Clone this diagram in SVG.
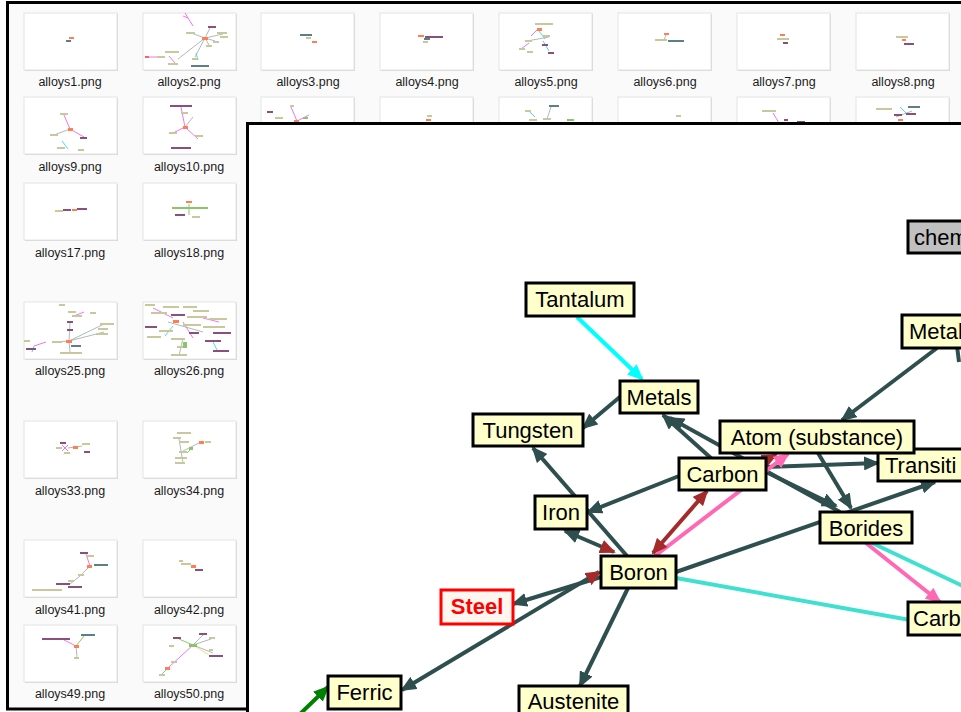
<svg xmlns="http://www.w3.org/2000/svg" width="961" height="712" viewBox="0 0 961 712">
  <defs>
    <style>
      .thumb-shadow { fill: #d4d4d4; }
      .thumb { fill: #ffffff; stroke: #e4e4e4; stroke-width: 1; }
      .fname { font-family: "Liberation Sans", Arial, sans-serif; font-size: 12.5px; fill: #1a1a1a; text-anchor: middle; }
      .mb { fill: #c9c79c; }
      .mp { fill: #8b4f7b; }
      .mo { fill: #ff7f50; }
      .mg { fill: #5f7f86; }
      .mgr { fill: #8cc46a; }
      .ml { stroke: #9aa8a8; stroke-width: 0.8; fill: none; }
      .mlp { stroke: #ee66ee; stroke-width: 0.9; fill: none; }
      .mlc { stroke: #44d4d4; stroke-width: 0.9; fill: none; }
      .mlg { stroke: #7fc45a; stroke-width: 0.9; fill: none; }
      .mly { stroke: #e8e070; stroke-width: 0.9; fill: none; }
      .node rect { fill: #ffffcc; stroke: #000000; stroke-width: 3; }
      .node text { font-family: "Liberation Sans", Arial, sans-serif; font-size: 22px; fill: #000000; }
      .edge { fill: none; stroke-width: 4; }
      .dk { stroke: #2f4f4f; }
      .cy { stroke: #00ffff; }
      .tq { stroke: #40e0d0; }
      .pk { stroke: #ff69b4; }
      .br { stroke: #a52a2a; }
      .gr { stroke: #008000; }
    </style>
    <marker id="ah-dk" viewBox="0 0 16 14" refX="14" refY="7" markerWidth="16" markerHeight="14" markerUnits="userSpaceOnUse" orient="auto-start-reverse"><path d="M0,0 L16,7 L0,14 z" fill="#2f4f4f"/></marker>
    <marker id="ah-cy" viewBox="0 0 16 14" refX="14" refY="7" markerWidth="16" markerHeight="14" markerUnits="userSpaceOnUse" orient="auto"><path d="M0,0 L16,7 L0,14 z" fill="#00ffff"/></marker>
    <marker id="ah-pk" viewBox="0 0 16 14" refX="14" refY="7" markerWidth="16" markerHeight="14" markerUnits="userSpaceOnUse" orient="auto"><path d="M0,0 L16,7 L0,14 z" fill="#ff69b4"/></marker>
    <marker id="ah-br" viewBox="0 0 16 14" refX="14" refY="7" markerWidth="16" markerHeight="14" markerUnits="userSpaceOnUse" orient="auto-start-reverse"><path d="M0,0 L16,7 L0,14 z" fill="#a52a2a"/></marker>
    <marker id="ah-gr" viewBox="0 0 16 14" refX="14" refY="7" markerWidth="16" markerHeight="14" markerUnits="userSpaceOnUse" orient="auto"><path d="M0,0 L16,7 L0,14 z" fill="#008000"/></marker>
    <clipPath id="win-clip"><rect x="249" y="125" width="712" height="587"/></clipPath>
  </defs>

  <!-- file browser background -->
  <rect x="0" y="0" width="961" height="712" fill="#ffffff"/>
  <rect x="7.5" y="2.5" width="960" height="706.5" fill="#fafafa" stroke="#000000" stroke-width="3"/>

  <!-- thumbnail frames -->
  <g id="thumbs">
    <!-- row 1 -->
    <rect class="thumb-shadow" x="25" y="14" width="93" height="57"/><rect class="thumb" x="24" y="13" width="93" height="57"/>
    <rect class="thumb-shadow" x="144" y="14" width="93" height="57"/><rect class="thumb" x="143" y="13" width="93" height="57"/>
    <rect class="thumb-shadow" x="262" y="14" width="93" height="57"/><rect class="thumb" x="261" y="13" width="93" height="57"/>
    <rect class="thumb-shadow" x="381" y="14" width="93" height="57"/><rect class="thumb" x="380" y="13" width="93" height="57"/>
    <rect class="thumb-shadow" x="500" y="14" width="93" height="57"/><rect class="thumb" x="499" y="13" width="93" height="57"/>
    <rect class="thumb-shadow" x="619" y="14" width="93" height="57"/><rect class="thumb" x="618" y="13" width="93" height="57"/>
    <rect class="thumb-shadow" x="738" y="14" width="93" height="57"/><rect class="thumb" x="737" y="13" width="93" height="57"/>
    <rect class="thumb-shadow" x="857" y="14" width="93" height="57"/><rect class="thumb" x="856" y="13" width="93" height="57"/>
    <!-- row 2 -->
    <rect class="thumb-shadow" x="25" y="98" width="93" height="57"/><rect class="thumb" x="24" y="97" width="93" height="57"/>
    <rect class="thumb-shadow" x="144" y="98" width="93" height="57"/><rect class="thumb" x="143" y="97" width="93" height="57"/>
    <rect class="thumb-shadow" x="262" y="98" width="93" height="57"/><rect class="thumb" x="261" y="97" width="93" height="57"/>
    <rect class="thumb-shadow" x="381" y="98" width="93" height="57"/><rect class="thumb" x="380" y="97" width="93" height="57"/>
    <rect class="thumb-shadow" x="500" y="98" width="93" height="57"/><rect class="thumb" x="499" y="97" width="93" height="57"/>
    <rect class="thumb-shadow" x="619" y="98" width="93" height="57"/><rect class="thumb" x="618" y="97" width="93" height="57"/>
    <rect class="thumb-shadow" x="738" y="98" width="93" height="57"/><rect class="thumb" x="737" y="97" width="93" height="57"/>
    <rect class="thumb-shadow" x="857" y="98" width="93" height="57"/><rect class="thumb" x="856" y="97" width="93" height="57"/>
    <!-- rows 3 to 7, first two columns -->
    <rect class="thumb-shadow" x="25" y="184" width="93" height="57"/><rect class="thumb" x="24" y="183" width="93" height="57"/>
    <rect class="thumb-shadow" x="144" y="184" width="93" height="57"/><rect class="thumb" x="143" y="183" width="93" height="57"/>
    <rect class="thumb-shadow" x="25" y="303" width="93" height="57"/><rect class="thumb" x="24" y="302" width="93" height="57"/>
    <rect class="thumb-shadow" x="144" y="303" width="93" height="57"/><rect class="thumb" x="143" y="302" width="93" height="57"/>
    <rect class="thumb-shadow" x="25" y="422" width="93" height="57"/><rect class="thumb" x="24" y="421" width="93" height="57"/>
    <rect class="thumb-shadow" x="144" y="422" width="93" height="57"/><rect class="thumb" x="143" y="421" width="93" height="57"/>
    <rect class="thumb-shadow" x="25" y="541" width="93" height="57"/><rect class="thumb" x="24" y="540" width="93" height="57"/>
    <rect class="thumb-shadow" x="144" y="541" width="93" height="57"/><rect class="thumb" x="143" y="540" width="93" height="57"/>
    <rect class="thumb-shadow" x="25" y="626" width="93" height="57"/><rect class="thumb" x="24" y="625" width="93" height="57"/>
    <rect class="thumb-shadow" x="144" y="626" width="93" height="57"/><rect class="thumb" x="143" y="625" width="93" height="57"/>
  </g>

  <!-- miniature graph previews -->
  <g id="previews">
    <g transform="translate(24,13)">
      <rect class="mo" x="45" y="24" width="5" height="2"/><rect class="mg" x="42" y="27" width="5" height="2"/>
    </g>
    <g transform="translate(143,13)">
      <path class="mlp" d="M42,0 L50,13 M45,5 L40,3"/>
      <path class="ml" d="M62,25 L48,20 M62,25 L80,21 M62,25 L66,32 M62,25 L35,46 M62,25 L52,44 M62,25 L72,28 M62,25 L67,15"/>
      <path class="mlc" d="M53,40 L55,47"/>
      <path class="mlp" d="M26,43 L32,50"/>
      <rect class="mo" x="59" y="24" width="6" height="3"/>
      <rect class="mb" x="43" y="19" width="9" height="2"/><rect class="mp" x="65" y="13" width="8" height="2"/>
      <rect class="mb" x="74" y="19" width="10" height="2"/><rect class="mb" x="77" y="23" width="8" height="2"/>
      <rect class="mb" x="70" y="28" width="6" height="2"/><rect class="mb" x="63" y="32" width="6" height="2"/>
      <rect class="mb" x="22" y="38" width="14" height="2"/><rect class="mb" x="49" y="45" width="6" height="2"/>
      <rect class="mb" x="25" y="50" width="10" height="2"/><rect class="mg" x="48" y="52" width="18" height="2"/>
      <rect fill="#ff6060" x="2" y="43" width="4" height="2"/><path class="mlp" d="M6,44 L14,44"/>
      <rect class="mb" x="14" y="43" width="8" height="2"/>
    </g>
    <g transform="translate(261,13)">
      <rect class="mg" x="39" y="21" width="12" height="2"/><rect class="mb" x="45" y="24" width="5" height="2"/><rect class="mo" x="51" y="28" width="5" height="2"/>
    </g>
    <g transform="translate(380,13)">
      <rect class="mo" x="38" y="22" width="6" height="2"/><rect class="mp" x="45" y="23" width="18" height="2"/><rect class="mg" x="44" y="25" width="6" height="2"/><rect class="mb" x="43" y="28" width="5" height="2"/>
    </g>
    <g transform="translate(499,13)">
      <path class="mlp" d="M32,23 L40,15 M30,30 L22,36"/><path class="mlc" d="M40,18 L46,26 M44,28 L50,38"/><path class="ml" d="M28,28 L50,24"/>
      <rect class="mb" x="36" y="10" width="18" height="2"/><rect class="mo" x="38" y="15" width="5" height="3"/>
      <rect class="mb" x="44" y="22" width="7" height="2"/><rect class="mb" x="26" y="27" width="7" height="2"/>
      <rect class="mp" x="43" y="31" width="6" height="2"/><rect class="mb" x="20" y="35" width="6" height="2"/>
      <rect class="mb" x="28" y="38" width="6" height="2"/><rect class="mp" x="49" y="39" width="6" height="2"/>
    </g>
    <g transform="translate(618,13)">
      <path class="ml" d="M48,22 L46,27"/>
      <rect class="mo" x="46" y="20" width="5" height="2"/><rect class="mb" x="37" y="26" width="12" height="2"/><rect class="mg" x="50" y="27" width="16" height="2"/>
    </g>
    <g transform="translate(737,13)">
      <rect class="mo" x="43" y="21" width="5" height="2"/><rect class="mb" x="40" y="25" width="12" height="2"/><rect class="mp" x="46" y="29" width="5" height="2"/>
    </g>
    <g transform="translate(856,13)">
      <rect class="mb" x="40" y="23" width="12" height="2"/><rect class="mo" x="46" y="26" width="4" height="2"/><rect class="mp" x="48" y="30" width="10" height="2"/>
    </g>
    <!-- row 2 -->
    <g transform="translate(24,97)">
      <path class="mlp" d="M40,18 L46,32 M46,32 L60,40"/><path class="mlc" d="M38,44 L44,52"/><path class="ml" d="M30,38 L46,32"/>
      <rect class="mb" x="36" y="16" width="8" height="2"/><rect class="mo" x="44" y="31" width="5" height="3"/>
      <rect class="mb" x="26" y="37" width="8" height="2"/><rect class="mp" x="56" y="40" width="7" height="2"/>
      <rect class="mb" x="33" y="50" width="8" height="2"/><rect class="mb" x="54" y="52" width="6" height="2"/>
    </g>
    <g transform="translate(143,97)">
      <path class="mlp" d="M38,10 L42,30 M42,30 L55,42 M42,30 L30,36"/><path class="ml" d="M42,30 L50,20"/>
      <rect class="mp" x="27" y="8" width="22" height="2"/><rect class="mb" x="38" y="15" width="7" height="2"/>
      <rect class="mo" x="40" y="29" width="5" height="3"/><rect class="mb" x="26" y="35" width="8" height="2"/>
      <rect class="mb" x="52" y="38" width="8" height="2"/><rect class="mp" x="28" y="50" width="20" height="2"/>
    </g>
    <g transform="translate(261,97)">
      <path class="mlp" d="M30,10 L36,24 M36,24 L48,18"/>
      <rect class="mb" x="29" y="8" width="4" height="2"/><rect class="mp" x="6" y="14" width="6" height="2"/>
      <rect class="mb" x="14" y="20" width="8" height="2"/><rect class="mo" x="33" y="23" width="5" height="2"/><rect class="mgr" x="42" y="20" width="5" height="2"/>
    </g>
    <g transform="translate(380,97)">
      <rect class="mb" x="47" y="18" width="5" height="2"/><rect class="mo" x="46" y="22" width="5" height="2"/>
    </g>
    <g transform="translate(499,97)">
      <path class="mlc" d="M30,14 L36,20"/><path class="ml" d="M52,10 L48,22"/>
      <rect class="mg" x="50" y="8" width="10" height="2"/><rect class="mb" x="26" y="13" width="6" height="2"/>
      <rect class="mb" x="30" y="22" width="8" height="2"/><rect class="mb" x="44" y="21" width="8" height="2"/><rect class="mgr" x="68" y="22" width="7" height="2"/>
    </g>
    <g transform="translate(618,97)">
      <rect class="mb" x="58" y="18" width="5" height="2"/>
    </g>
    <g transform="translate(737,97)">
      <path class="mlp" d="M36,16 L42,26"/>
      <rect class="mb" x="25" y="13" width="14" height="2"/><rect class="mp" x="47" y="22" width="4" height="2"/><rect class="mp" x="60" y="24" width="8" height="2"/>
    </g>
    <g transform="translate(856,97)">
      <path class="mlc" d="M44,10 L50,16"/><path class="ml" d="M40,20 L56,14"/>
      <rect class="mb" x="20" y="11" width="16" height="2"/><rect class="mg" x="52" y="9" width="12" height="2"/>
      <rect class="mp" x="38" y="17" width="8" height="2"/><rect class="mp" x="50" y="16" width="10" height="2"/><rect class="mo" x="42" y="22" width="5" height="2"/>
    </g>
    <!-- row 3 -->
    <g transform="translate(24,183)">
      <rect class="mb" x="31" y="27" width="8" height="2"/><rect class="mp" x="39" y="26" width="8" height="2"/><rect class="mo" x="48" y="26" width="5" height="2"/><rect class="mp" x="53" y="25" width="10" height="2"/>
    </g>
    <g transform="translate(143,183)">
      <path class="mlg" d="M46,21 L46,32"/>
      <rect class="mo" x="43" y="18" width="6" height="2"/><rect class="mgr" x="29" y="24" width="36" height="2"/>
      <rect class="mp" x="32" y="31" width="10" height="2"/><rect class="mb" x="49" y="33" width="8" height="2"/>
    </g>
    <!-- row 4 -->
    <g transform="translate(24,302)">
      <path class="ml" d="M45,39 L80,22 M45,39 L80,30 M45,39 L46,20 M45,39 L30,40 M45,39 L46,50"/>
      <path class="mlp" d="M50,14 L60,10 M22,40 L10,44"/><path class="mlc" d="M10,44 L8,50"/>
      <rect class="mb" x="35" y="2" width="6" height="2"/><rect class="mb" x="44" y="9" width="8" height="2"/>
      <rect class="mb" x="48" y="13" width="10" height="2"/><rect class="mb" x="66" y="10" width="6" height="2"/>
      <rect class="mp" x="43" y="19" width="6" height="2"/><rect class="mp" x="43" y="27" width="6" height="2"/>
      <rect class="mb" x="76" y="21" width="14" height="2"/><rect class="mb" x="74" y="26" width="10" height="2"/>
      <rect class="mb" x="72" y="31" width="12" height="2"/><rect class="mo" x="42" y="38" width="6" height="3"/>
      <rect class="mb" x="28" y="39" width="10" height="2"/><rect class="mg" x="47" y="43" width="10" height="2"/>
      <rect class="mb" x="0" y="38" width="6" height="2"/><rect class="mp" x="2" y="46" width="10" height="2"/>
      <rect class="mb" x="36" y="50" width="22" height="2"/>
    </g>
    <g transform="translate(143,302)">
      <path class="mlp" d="M10,6 L30,16 M40,20 L50,36 M60,16 L76,20"/><path class="mlc" d="M30,24 L22,34 M70,40 L74,48"/><path class="ml" d="M25,20 L60,30 M40,36 L36,54"/>
      <rect class="mb" x="2" y="2" width="10" height="2"/><rect class="mb" x="20" y="4" width="16" height="2"/><rect class="mb" x="40" y="4" width="14" height="2"/>
      <rect class="mb" x="50" y="8" width="16" height="2"/><rect class="mb" x="8" y="10" width="16" height="2"/><rect class="mp" x="28" y="12" width="14" height="2"/>
      <rect class="mb" x="44" y="14" width="20" height="2"/><rect class="mb" x="66" y="16" width="18" height="2"/><rect class="mo" x="30" y="18" width="6" height="3"/>
      <rect class="mb" x="40" y="22" width="18" height="2"/><rect class="mp" x="2" y="24" width="12" height="2"/><rect class="mb" x="60" y="24" width="22" height="2"/>
      <rect class="mb" x="16" y="28" width="14" height="2"/><rect class="mp" x="46" y="30" width="10" height="2"/><rect class="mp" x="70" y="30" width="18" height="2"/>
      <rect class="mb" x="4" y="34" width="14" height="2"/><rect class="mb" x="28" y="36" width="14" height="2"/><rect class="mp" x="62" y="38" width="16" height="2"/>
      <rect class="mb" x="34" y="44" width="10" height="2"/><rect class="mp" x="70" y="48" width="16" height="2"/><rect class="mb" x="28" y="52" width="16" height="2"/>
      <rect class="mgr" x="40" y="40" width="4" height="6"/>
    </g>
    <!-- row 5 -->
    <g transform="translate(24,421)">
      <path class="mlp" d="M38,24 L44,30 M44,24 L38,30"/><path class="ml" d="M44,27 L58,25"/>
      <rect class="mp" x="36" y="21" width="6" height="2"/><rect class="mb" x="32" y="26" width="6" height="2"/>
      <rect class="mb" x="40" y="31" width="6" height="2"/><rect class="mo" x="49" y="25" width="5" height="3"/>
      <rect class="mb" x="58" y="22" width="8" height="2"/><rect class="mp" x="60" y="30" width="6" height="2"/>
    </g>
    <g transform="translate(143,421)">
      <path class="ml" d="M36,18 L40,42 M40,30 L60,20"/><path class="mlg" d="M50,26 L44,32"/>
      <rect class="mb" x="34" y="11" width="14" height="2"/><rect class="mb" x="30" y="16" width="8" height="2"/>
      <rect class="mb" x="36" y="20" width="10" height="2"/><rect class="mo" x="56" y="20" width="5" height="3"/>
      <rect class="mb" x="62" y="20" width="6" height="2"/><rect class="mgr" x="46" y="26" width="4" height="3"/>
      <rect class="mb" x="36" y="30" width="8" height="2"/><rect class="mb" x="32" y="36" width="12" height="2"/><rect class="mb" x="32" y="41" width="10" height="2"/>
    </g>
    <!-- row 6 -->
    <g transform="translate(24,540)">
      <path class="mlp" d="M62,14 L66,26"/><path class="ml" d="M66,26 L56,36 M56,36 L46,44"/>
      <rect class="mp" x="56" y="12" width="8" height="2"/><rect class="mb" x="62" y="15" width="8" height="2"/>
      <rect class="mo" x="63" y="25" width="5" height="3"/><rect class="mg" x="70" y="24" width="14" height="2"/>
      <rect class="mb" x="54" y="34" width="6" height="2"/><rect class="mb" x="44" y="40" width="6" height="2"/>
      <rect class="mp" x="32" y="43" width="14" height="2"/><rect class="mp" x="44" y="46" width="14" height="2"/>
      <rect class="mb" x="8" y="49" width="30" height="2"/>
    </g>
    <g transform="translate(143,540)">
      <rect class="mb" x="36" y="20" width="4" height="2"/><rect class="mb" x="38" y="23" width="10" height="2"/>
      <rect class="mo" x="48" y="25" width="5" height="3"/><rect class="mp" x="52" y="29" width="8" height="2"/>
    </g>
    <!-- row 7 -->
    <g transform="translate(24,625)">
      <path class="mlp" d="M40,15 L52,21"/><path class="mlg" d="M52,21 L60,11"/><path class="ml" d="M52,21 L53,32"/>
      <rect class="mp" x="18" y="13" width="28" height="2"/><rect class="mg" x="57" y="9" width="14" height="2"/>
      <rect class="mo" x="50" y="20" width="5" height="3"/><rect class="mb" x="50" y="32" width="5" height="2"/>
    </g>
    <g transform="translate(143,625)">
      <path class="mlp" d="M50,20 L26,42"/><path class="mlg" d="M50,20 L36,14"/><path class="ml" d="M50,20 L60,10 M50,20 L68,14 M50,20 L70,28"/><path class="mly" d="M50,20 L66,30"/><path class="mlc" d="M26,42 L18,50"/>
      <rect class="mp" x="30" y="12" width="8" height="2"/><rect class="mp" x="56" y="8" width="8" height="2"/>
      <rect class="mb" x="66" y="12" width="6" height="2"/><rect class="mb" x="26" y="20" width="5" height="2"/>
      <rect class="mgr" x="46" y="19" width="8" height="3"/><rect class="mb" x="66" y="24" width="4" height="2"/>
      <rect class="mp" x="66" y="30" width="14" height="2"/><rect class="mb" x="28" y="36" width="6" height="2"/>
      <rect class="mo" x="22" y="42" width="5" height="3"/><rect class="mb" x="16" y="49" width="6" height="2"/>
    </g>
  </g>

  <!-- file names -->
  <g id="file-names">
    <text class="fname" x="70" y="86">alloys1.png</text>
    <text class="fname" x="189" y="86">alloys2.png</text>
    <text class="fname" x="308" y="86">alloys3.png</text>
    <text class="fname" x="427" y="86">alloys4.png</text>
    <text class="fname" x="546" y="86">alloys5.png</text>
    <text class="fname" x="665" y="86">alloys6.png</text>
    <text class="fname" x="784" y="86">alloys7.png</text>
    <text class="fname" x="903" y="86">alloys8.png</text>
    <text class="fname" x="70" y="171">alloys9.png</text>
    <text class="fname" x="189" y="171">alloys10.png</text>
    <text class="fname" x="70" y="257">alloys17.png</text>
    <text class="fname" x="189" y="257">alloys18.png</text>
    <text class="fname" x="70" y="375">alloys25.png</text>
    <text class="fname" x="189" y="375">alloys26.png</text>
    <text class="fname" x="70" y="495">alloys33.png</text>
    <text class="fname" x="189" y="495">alloys34.png</text>
    <text class="fname" x="70" y="614">alloys41.png</text>
    <text class="fname" x="189" y="614">alloys42.png</text>
    <text class="fname" x="70" y="698">alloys49.png</text>
    <text class="fname" x="189" y="698">alloys50.png</text>
  </g>

  <!-- graph window -->
  <rect x="247.5" y="123.5" width="800" height="700" fill="#ffffff" stroke="#000000" stroke-width="3"/>

  <g clip-path="url(#win-clip)">
    <g id="connectors">
      <path class="edge cy" d="M577,317 L642,379" marker-end="url(#ah-cy)"/>
      <path class="edge dk" d="M621,396 L583,428" marker-end="url(#ah-dk)"/>
      <path class="edge dk" d="M937,348 L842,420" marker-end="url(#ah-dk)"/>
      <path class="edge dk" d="M957,346 L959,362"/>
      <path class="edge dk" d="M712,459 L663,415" marker-end="url(#ah-dk)"/>
      <path class="edge dk" d="M840,512 L670,418" marker-end="url(#ah-dk)"/>
      <path class="edge dk" d="M766,472 L836,506" marker-end="url(#ah-dk)"/>
      <path class="edge dk" d="M818,453 L851,508" marker-end="url(#ah-dk)"/>
      <path class="edge dk" d="M766,467 L878,463" marker-end="url(#ah-dk)"/>
      <path class="edge dk" d="M676,572 L935,482" marker-end="url(#ah-dk)"/>
      <path class="edge tq" d="M676,578 L910,620"/>
      <path class="edge tq" d="M872,543 L965,587"/>
      <path class="edge pk" d="M866,543 L940,602" marker-end="url(#ah-pk)"/>
      <path class="edge br" d="M758,464 L776,455" marker-end="url(#ah-br)"/>
      <path class="edge pk" d="M655,556 L788,454" marker-end="url(#ah-pk)"/>
      <path class="edge br" d="M653,553 L707,491" marker-start="url(#ah-br)" marker-end="url(#ah-br)"/>
      <path class="edge dk" d="M679,476 L588,512" marker-end="url(#ah-dk)"/>
      <path class="edge dk" d="M627,556 L533,448" marker-end="url(#ah-dk)"/>
      <path class="edge dk" d="M614,552 L565,531" marker-end="url(#ah-dk)"/>
      <path class="edge br" d="M565,531 L614,552" marker-end="url(#ah-br)" stroke-opacity="0"/>
      <path class="edge dk" d="M601,577 L513,604" marker-end="url(#ah-dk)"/>
      <path class="edge dk" d="M599,572 L402,690" marker-end="url(#ah-dk)"/>
      <path class="edge br" d="M402,690 L600,572" marker-end="url(#ah-br)" stroke-opacity="0"/>
      <path class="edge gr" d="M300,714 L328,687" marker-end="url(#ah-gr)"/>
      <path class="edge dk" d="M628,588 L580,686" marker-end="url(#ah-dk)"/>
    </g>

    <g id="node-chem" class="node"><rect x="908" y="221" width="70" height="32" style="fill:#c0c0c0"/><text x="914" y="245">chem</text></g>
    <g id="node-tantalum" class="node"><rect x="526" y="283" width="108" height="33"/><text x="580" y="307" text-anchor="middle">Tantalum</text></g>
    <g id="node-metal" class="node"><rect x="902" y="315" width="70" height="33"/><text x="909" y="339">Metal</text></g>
    <g id="node-metals" class="node"><rect x="620" y="381" width="78" height="32"/><text x="659" y="405" text-anchor="middle">Metals</text></g>
    <g id="node-tungsten" class="node"><rect x="473" y="414" width="110" height="32"/><text x="528" y="438" text-anchor="middle">Tungsten</text></g>
    <g id="node-transition" class="node"><rect x="878" y="449" width="100" height="32"/><text x="885" y="473">Transiti</text></g>
    <g id="node-atom" class="node"><rect x="720" y="421" width="194" height="32"/><text x="817" y="445" text-anchor="middle">Atom (substance)</text></g>
    <g id="node-carbon" class="node"><rect x="679" y="458" width="87" height="32"/><text x="722.5" y="482" text-anchor="middle">Carbon</text></g>
    <g id="node-iron" class="node"><rect x="535" y="496" width="52" height="33"/><text x="561" y="520" text-anchor="middle">Iron</text></g>
    <g id="node-borides" class="node"><rect x="820" y="512" width="92" height="31"/><text x="866" y="536" text-anchor="middle">Borides</text></g>
    <g id="node-boron" class="node"><rect x="601" y="556" width="75" height="32"/><text x="638.5" y="580" text-anchor="middle">Boron</text></g>
    <g id="node-steel" class="node"><rect x="441" y="590" width="72" height="34" style="fill:#fff6f0;stroke:#ff0000"/><text x="477" y="614" text-anchor="middle" style="fill:#ff0000;font-weight:bold">Steel</text></g>
    <g id="node-carbide" class="node"><rect x="908" y="602" width="70" height="33"/><text x="913" y="626">Carb</text></g>
    <g id="node-ferric" class="node"><rect x="328" y="676" width="73" height="33"/><text x="364.5" y="700" text-anchor="middle">Ferric</text></g>
    <g id="node-austenite" class="node"><rect x="519" y="686" width="109" height="40"/><text x="573.5" y="709" text-anchor="middle">Austenite</text></g>
  </g>
</svg>
